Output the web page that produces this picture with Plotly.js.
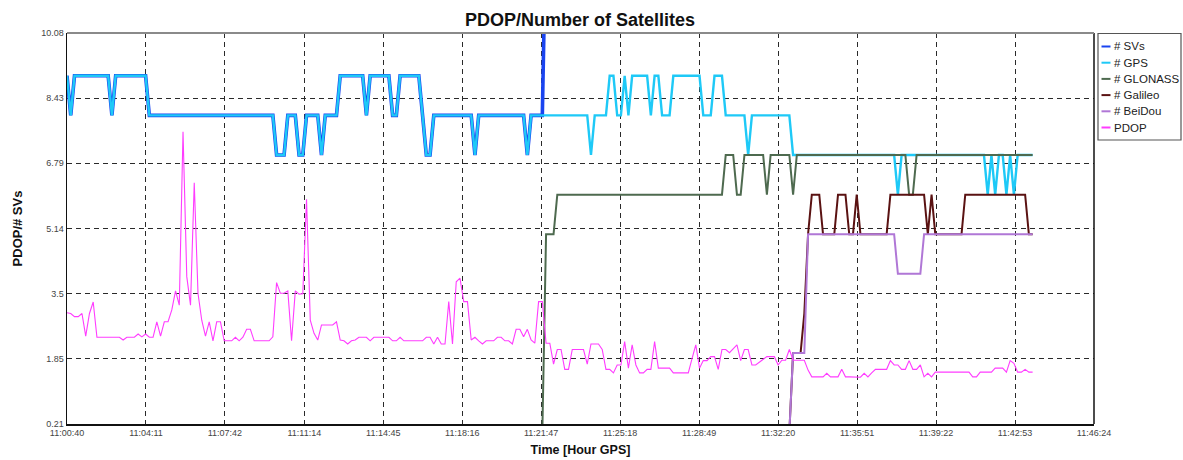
<!DOCTYPE html>
<html>
<head>
<meta charset="utf-8">
<script src="https://cdn.plot.ly/plotly-3.0.1.min.js"></script>
<style>
  html, body { margin: 0; padding: 0; background: #ffffff; }
  #chart { width: 1183px; height: 460px; }
</style>
</head>
<body>
<div id="chart"></div>
<script>
// Receiver log: one epoch every 10 s starting at 11:00:40 GPS time.
const FIRST_EPOCH = '11:00:40';
const EPOCH_STEP_S = 10;

const X_TICK_LABELS = ['11:00:40', '11:04:11', '11:07:42', '11:11:14', '11:14:45', '11:18:16', '11:21:47',
  '11:25:18', '11:28:49', '11:32:20', '11:35:51', '11:39:22', '11:42:53', '11:46:24'];
const Y_TICK_VALUES = [0.21, 1.855, 3.5, 5.145, 6.79, 8.435, 10.08];
const Y_TICK_LABELS = ['0.21', '1.85', '3.5', '5.14', '6.79', '8.43', '10.08'];

const SERIES_NAMES = ['# SVs', '# GPS', '# GLONASS', '# Galileo', '# BeiDou', 'PDOP'];

// Satellite counts per epoch, stored as [count, number of consecutive epochs].
const SVS_RUNS = [[9,1],[8,1],[9,10],[8,1],[9,9],[8,34],[7,3],[8,3],[7,2],[8,4],[7,1],[8,4],[9,7],[8,1],[9,6],
  [8,2],[9,6],[8,1],[7,2],[8,11],[7,1],[8,13],[7,1],[8,4],
  [13,3],[14,9],[13,1],[14,4],[15,2],[14,2],[15,1],[14,1],[15,5],[14,1],[15,2],[14,3],[15,8],[14,3],[15,6],
  [14,2],[15,1],[14,1],[15,4],[14,1],[15,6],[17,1],[18,2],[19,1],[24,1],[25,3],[24,4],[25,3],[24,2],[25,1],
  [24,8],[25,2],[23,1],[24,2],[23,2],[24,2],[25,1],[24,1],[25,1],[24,8],[25,6],[24,1],[25,1],[24,1],[25,2],
  [24,1],[25,1],[24,1],[25,3],[24,2]];
const GPS_RUNS = [[9,1],[8,1],[9,10],[8,1],[9,9],[8,34],[7,3],[8,3],[7,2],[8,4],[7,1],[8,4],[9,7],[8,1],[9,6],
  [8,2],[9,6],[8,1],[7,2],[8,11],[7,1],[8,13],[7,1],[8,16],[7,1],[8,4],[9,2],[8,2],[9,1],[8,1],[9,5],[8,1],
  [9,2],[8,3],[9,8],[8,3],[9,3],[8,6],[7,1],[8,11],[7,28],[6,1],[7,23],[6,1],[7,1],[6,1],[7,2],[6,1],[7,1],
  [6,1],[7,5]];
const GLONASS_RUNS = [[0,128],[5,3],[6,45],[7,3],[6,2],[7,6],[6,1],[7,6],[6,1],[7,30],[6,2],[7,32]];
const GALILEO_RUNS = [[0,194],[2,3],[3,1],[5,1],[6,3],[5,4],[6,3],[5,2],[6,1],[5,8],[6,10],[5,1],[6,1],[5,8],
  [6,17],[5,2]];
const BEIDOU_RUNS = [[0,194],[2,4],[5,24],[4,7],[5,30]];

// Position dilution of precision per epoch.
const PDOP = [
  3.02, 3.00, 2.92, 2.92, 3.00, 2.43, 3.00, 3.29, 2.40, 2.40, 2.40, 2.40, 2.40, 2.40, 2.40, 2.33, 2.40, 2.40, 2.40, 2.48,
  2.41, 2.48, 2.40, 2.40, 2.79, 2.43, 2.79, 2.79, 3.09, 3.57, 3.21, 7.59, 3.93, 3.21, 6.30, 3.51, 2.83, 2.43, 2.79, 2.31,
  2.79, 2.79, 2.31, 2.31, 2.31, 2.40, 2.31, 2.40, 2.60, 2.60, 2.31, 2.31, 2.31, 2.31, 2.31, 2.41, 3.78, 3.51, 3.51, 3.57,
  2.31, 3.57, 3.49, 3.50, 5.88, 2.83, 2.50, 2.33, 2.71, 2.71, 2.71, 2.71, 2.79, 2.33, 2.31, 2.23, 2.31, 2.33, 2.40, 2.40,
  2.40, 2.31, 2.40, 2.40, 2.40, 2.40, 2.40, 2.31, 2.31, 2.40, 2.31, 2.31, 2.31, 2.31, 2.31, 2.31, 2.40, 2.40, 2.23, 2.40,
  2.23, 2.23, 3.30, 2.23, 3.80, 3.89, 3.30, 3.30, 2.33, 2.40, 2.31, 2.23, 2.31, 2.31, 2.31, 2.40, 2.40, 2.31, 2.31, 2.23,
  2.60, 2.60, 2.41, 2.60, 2.33, 2.25, 3.30, 3.30, 2.25, 2.25, 1.72, 2.09, 2.09, 1.59, 1.59, 2.09, 2.09, 2.09, 2.09, 1.72,
  2.23, 2.23, 2.23, 2.09, 1.59, 1.59, 1.50, 1.70, 1.70, 2.29, 1.62, 2.21, 1.70, 1.50, 1.50, 1.59, 1.59, 2.29, 1.62, 1.62,
  1.62, 1.62, 1.50, 1.50, 1.50, 1.50, 1.50, 1.86, 2.21, 1.62, 1.81, 1.81, 1.91, 1.91, 1.59, 2.09, 2.09, 2.01, 2.10, 2.21,
  1.81, 2.09, 2.09, 1.70, 1.70, 1.77, 1.84, 1.91, 1.91, 1.91, 1.70, 1.82, 1.82, 2.09, 1.82, 1.82, 1.82, 1.82, 1.57, 1.40,
  1.40, 1.40, 1.40, 1.49, 1.40, 1.40, 1.40, 1.59, 1.40, 1.40, 1.40, 1.39, 1.39, 1.49, 1.40, 1.50, 1.59, 1.59, 1.59, 1.59,
  1.81, 1.70, 1.70, 1.59, 1.59, 1.81, 1.59, 1.59, 1.70, 1.40, 1.49, 1.40, 1.52, 1.52, 1.52, 1.52, 1.52, 1.52, 1.52, 1.52,
  1.52, 1.52, 1.40, 1.40, 1.52, 1.52, 1.52, 1.52, 1.62, 1.62, 1.62, 1.52, 1.81, 1.74, 1.52, 1.52, 1.59, 1.52, 1.52
];

const SERIES_STYLE = [
  { color: '#1a44f0', width: 3.6 },
  { color: '#1ec9f7', width: 2.4 },
  { color: '#4e6a4f', width: 2.0 },
  { color: '#5a1212', width: 2.0 },
  { color: '#b077d6', width: 2.0 },
  { color: '#ff3cff', width: 1.1 }
];

function expandRuns(runs) {
  const out = [];
  runs.forEach(([value, count]) => { for (let k = 0; k < count; k++) out.push(value); });
  return out;
}
function toSeconds(hms) {
  const [h, m, s] = hms.split(':').map(Number);
  return h * 3600 + m * 60 + s;
}

const seriesValues = [
  expandRuns(SVS_RUNS), expandRuns(GPS_RUNS), expandRuns(GLONASS_RUNS),
  expandRuns(GALILEO_RUNS), expandRuns(BEIDOU_RUNS), PDOP
];
const t0 = toSeconds(FIRST_EPOCH);
const epochTimes = PDOP.map((_, i) => t0 + i * EPOCH_STEP_S);

const traces = seriesValues.map((ys, k) => ({
  type: 'scatter', mode: 'lines', name: SERIES_NAMES[k],
  x: epochTimes, y: ys,
  line: { color: SERIES_STYLE[k].color, width: SERIES_STYLE[k].width },
  hoverinfo: 'skip', showlegend: false
}));

const W = 1183, H = 460;
const M = { l: 67, r: 89, t: 33, b: 36 };
const plotW = W - M.l - M.r, plotH = H - M.t - M.b;
const px2x = px => (px - M.l) / plotW;
const px2y = py => (H - M.b - py) / plotH;

const FONT = 'Liberation Sans, Arial, sans-serif';
const xTickVals = X_TICK_LABELS.map(toSeconds);

// Plot frame and the legend box beside the plot area.
const shapes = [
  { type: 'line', xref: 'paper', yref: 'paper', x0: 1, x1: 1, y0: 0, y1: 1, line: { color: '#111', width: 1.5 } },
  { type: 'line', xref: 'paper', yref: 'paper', x0: 0, x1: 1, y0: 1, y1: 1, line: { color: '#8a8a8a', width: 2 } },
  { type: 'rect', xref: 'paper', yref: 'paper', x0: px2x(1098), x1: px2x(1181), y0: px2y(140), y1: px2y(33.5),
    line: { color: '#555', width: 1.2 }, fillcolor: 'rgba(0,0,0,0)' }
];
const annotations = [];
SERIES_NAMES.forEach((name, k) => {
  const yc = 46.5 + k * 16.2;
  shapes.push({ type: 'line', xref: 'paper', yref: 'paper', x0: px2x(1101.5), x1: px2x(1110.5),
    y0: px2y(yc), y1: px2y(yc), line: { color: SERIES_STYLE[k].color, width: 2 } });
  annotations.push({ xref: 'paper', yref: 'paper', x: px2x(1112), y: px2y(yc), xanchor: 'left', yanchor: 'middle',
    text: name, showarrow: false, font: { family: FONT, size: 11.5, color: '#222' } });
});

const layout = {
  width: W, height: H, margin: M,
  paper_bgcolor: '#ffffff', plot_bgcolor: '#ffffff',
  font: { family: FONT, color: '#333' },
  title: { text: 'PDOP/Number of Satellites', x: px2x(580), xref: 'paper', xanchor: 'center',
    y: 1 - 20 / H, yref: 'container', yanchor: 'middle',
    font: { family: FONT, size: 18, weight: 'bold', color: '#111' } },
  xaxis: {
    type: 'linear', range: [xTickVals[0], xTickVals[xTickVals.length - 1]],
    tickvals: xTickVals, ticktext: X_TICK_LABELS, ticks: '',
    tickfont: { family: FONT, size: 9, color: '#444' },
    showgrid: true, gridcolor: '#2a2a2a', gridwidth: 1, griddash: '5px,4px',
    zeroline: false, showline: true, linecolor: '#111', linewidth: 1.5,
    title: { text: 'Time [Hour GPS]', standoff: 8, font: { family: FONT, size: 12.5, weight: 'bold', color: '#111' } },
    fixedrange: true
  },
  yaxis: {
    range: [0.21, 10.08], tickvals: Y_TICK_VALUES, ticktext: Y_TICK_LABELS, ticks: '',
    tickfont: { family: FONT, size: 9, color: '#444' },
    showgrid: true, gridcolor: '#2a2a2a', gridwidth: 1, griddash: '5px,4px',
    zeroline: false, showline: true, linecolor: '#111', linewidth: 1.5,
    title: { text: 'PDOP/# SVs', standoff: 15, font: { family: FONT, size: 13, weight: 'bold', color: '#111' } },
    fixedrange: true
  },
  shapes: shapes,
  annotations: annotations,
  showlegend: false
};

Plotly.newPlot('chart', traces, layout, { staticPlot: true, displayModeBar: false });
</script>
</body>
</html>
